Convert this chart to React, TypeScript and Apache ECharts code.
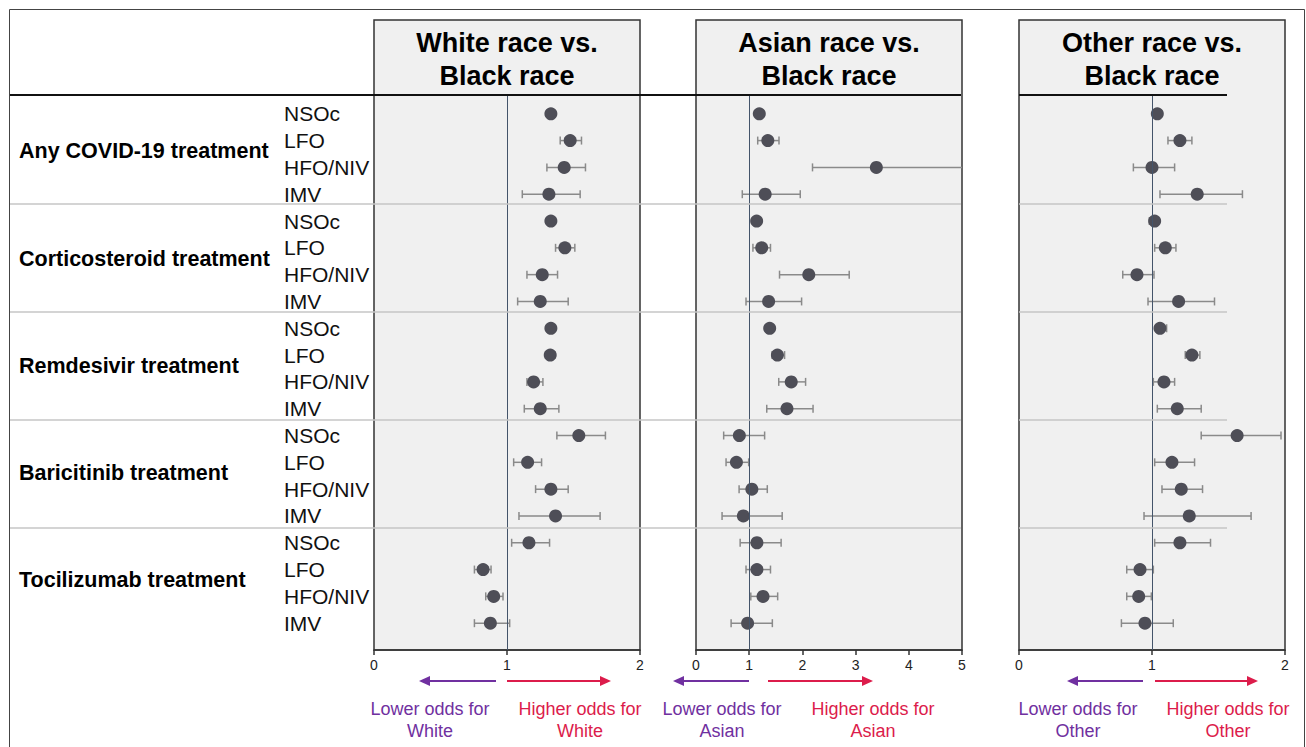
import React, { useEffect, useRef } from 'react';
import * as echarts from 'echarts';

// ---------- data ----------
const groups = [
  'Any COVID-19 treatment',
  'Corticosteroid treatment',
  'Remdesivir treatment',
  'Baricitinib treatment',
  'Tocilizumab treatment',
];
const levels = ['NSOc', 'LFO', 'HFO/NIV', 'IMV'];
const panelTitles = ['White race vs.\nBlack race', 'Asian race vs.\nBlack race', 'Other race vs.\nBlack race'];
const comparators = ['White', 'Asian', 'Other'];
const axisMax = [2, 5, 2];

const whiteOR = [1.33, 1.475, 1.43, 1.315, 1.33, 1.435, 1.265, 1.25, 1.33, 1.325, 1.2, 1.25, 1.54, 1.155, 1.33, 1.365, 1.165, 0.82, 0.9, 0.875];
const whiteLo = [1.3, 1.4, 1.3, 1.115, 1.3, 1.365, 1.15, 1.08, 1.3, 1.29, 1.15, 1.13, 1.375, 1.05, 1.215, 1.09, 1.035, 0.755, 0.84, 0.755];
const whiteHi = [1.36, 1.56, 1.59, 1.55, 1.36, 1.51, 1.38, 1.46, 1.36, 1.36, 1.27, 1.39, 1.74, 1.26, 1.46, 1.7, 1.32, 0.88, 0.97, 1.02];

const asianOR = [1.19, 1.35, 3.39, 1.3, 1.14, 1.235, 2.12, 1.365, 1.385, 1.53, 1.79, 1.71, 0.815, 0.76, 1.05, 0.89, 1.145, 1.145, 1.26, 0.97];
const asianLo = [1.12, 1.16, 2.19, 0.87, 1.08, 1.07, 1.57, 0.94, 1.32, 1.43, 1.555, 1.33, 0.52, 0.565, 0.81, 0.49, 0.83, 0.94, 1.03, 0.66];
const asianHi = [1.26, 1.56, 5.6, 1.96, 1.2, 1.4, 2.88, 1.985, 1.45, 1.665, 2.06, 2.2, 1.29, 0.99, 1.34, 1.62, 1.6, 1.4, 1.535, 1.435];

const otherOR = [1.04, 1.21, 1.0, 1.34, 1.02, 1.1, 0.887, 1.2, 1.06, 1.3, 1.09, 1.19, 1.64, 1.15, 1.22, 1.28, 1.21, 0.91, 0.9, 0.947];
const otherLo = [1.01, 1.12, 0.86, 1.06, 0.98, 1.02, 0.78, 0.97, 1.03, 1.25, 1.01, 1.04, 1.37, 1.02, 1.075, 0.94, 1.02, 0.81, 0.81, 0.77];
const otherHi = [1.07, 1.3, 1.17, 1.68, 1.05, 1.18, 1.015, 1.47, 1.11, 1.36, 1.17, 1.37, 1.97, 1.32, 1.38, 1.745, 1.44, 1.01, 0.995, 1.16];

const groupBreaks = [3.36, 7.4, 11.42, 15.45];

// ---------- layout ----------
const FONT = '"Liberation Sans", Arial, sans-serif';
const panelLeft = [374, 696, 1019];
const panelWidth = 266;
const plotTop = 95;
const plotBottom = 650;
const headerTop = 20;
const yMin = -0.7;
const yMax = 20;
const arrowY = 681;
const purpleArrows = [[496, 419], [749, 673], [1143, 1067]];
const redArrows = [[507, 611], [768, 873], [1155, 1258]];
const lowerTextX = [430, 722, 1078];
const higherTextX = [580, 873, 1228];
const PURPLE = '#7030a0';
const RED = '#dc1c4b';

const ors = [whiteOR, asianOR, otherOR];
const los = [whiteLo, asianLo, otherLo];
const his = [whiteHi, asianHi, otherHi];

export default function App() {
  const ref = useRef<HTMLDivElement>(null);
  useEffect(() => {
    const chart = echarts.init(ref.current!, null, { renderer: 'svg', width: 1306, height: 747 });
    const rowLabels = groups.flatMap(() => levels);
    const rowIdx = rowLabels.map((_, k) => k);
    const groupCenters = groups.map((_, g) => g * 4 + 1.4);
    const plotH = plotBottom - plotTop;

    const grids: any[] = [];
    const xAxes: any[] = [];
    const yAxes: any[] = [];
    const series: any[] = [];

    panelLeft.forEach((left, i) => {
      grids.push({ left, top: plotTop, width: panelWidth, height: plotH, show: false });
      xAxes.push({
        gridIndex: i, type: 'value', min: 0, max: axisMax[i], interval: 1, position: 'bottom',
        axisLine: { show: true, onZero: false, lineStyle: { color: '#333', width: 1.5 } },
        axisTick: { show: true, length: 5, lineStyle: { color: '#333', width: 1.5 } },
        axisLabel: { fontSize: 14, color: '#222', margin: 8, fontFamily: FONT },
        splitLine: { show: false },
      });
      yAxes.push({
        gridIndex: i, type: 'value', inverse: true, min: yMin, max: yMax,
        show: i === 0,
        axisLine: { show: false, onZero: false }, axisTick: { show: false }, splitLine: { show: false },
        axisLabel: {
          show: i === 0,
          customValues: rowIdx,
          formatter: (v: number) => rowLabels[Math.round(v)] ?? '',
          align: 'left', margin: 90, fontSize: 21, color: '#111', fontFamily: FONT,
          verticalAlign: 'middle', padding: [0, 0, 2, 0],
        },
      });
      series.push({
        type: 'custom', xAxisIndex: i, yAxisIndex: i, z: 2,
        encode: { x: [1, 2], y: 0 },
        data: rowIdx.map((k) => [k, los[i][k], his[i][k]]),
        renderItem: (params: any, api: any) => {
          const row = api.value(0);
          const a = api.coord([api.value(1), row]);
          const b = api.coord([api.value(2), row]);
          const cs = params.coordSys;
          const lo = cs.x, hi = cs.x + cs.width;
          const y = a[1];
          const h = 4;
          const style = { stroke: '#8a8a8a', lineWidth: 1.5 };
          const children: any[] = [
            { type: 'line', shape: { x1: Math.max(a[0], lo), y1: y, x2: Math.min(b[0], hi), y2: y }, style },
          ];
          if (a[0] >= lo) children.push({ type: 'line', shape: { x1: a[0], y1: y - h, x2: a[0], y2: y + h }, style });
          if (b[0] <= hi) children.push({ type: 'line', shape: { x1: b[0], y1: y - h, x2: b[0], y2: y + h }, style });
          return { type: 'group', children };
        },
      });
      series.push({
        type: 'scatter', xAxisIndex: i, yAxisIndex: i, z: 4,
        symbol: 'circle', symbolSize: 13,
        itemStyle: { color: '#4e4e57', opacity: 1 },
        data: rowIdx.map((k) => [ors[i][k], k]),
        markLine: {
          silent: true, symbol: ['none', 'none'], label: { show: false },
          lineStyle: { color: '#44546a', width: 1, type: 'solid' },
          data: [{ xAxis: 1 }],
        },
      });
    });

    // table grids (label column + separators)
    const tableGrids = [
      { left: 10, width: 951 },
      { left: 1019, width: 208 },
    ];
    tableGrids.forEach((tg, j) => {
      const gi = 3 + j;
      grids.push({ left: tg.left, width: tg.width, top: plotTop, height: plotH, show: false });
      xAxes.push({ gridIndex: gi, type: 'value', min: 0, max: 1, show: false, axisLine: { onZero: false } });
      yAxes.push({
        gridIndex: gi, type: 'value', inverse: true, min: yMin, max: yMax,
        show: j === 0,
        axisLine: { show: false, onZero: false }, axisTick: { show: false }, splitLine: { show: false },
        axisLabel: {
          show: j === 0,
          customValues: groupCenters,
          formatter: (v: number) => groups[Math.floor(v / 4)] ?? '',
          align: 'left', margin: -9, fontSize: 21.5, fontWeight: 'bold', color: '#000', fontFamily: FONT,
        },
      });
      series.push({
        type: 'scatter', xAxisIndex: gi, yAxisIndex: gi, z: 3, silent: true,
        symbolSize: 0, data: [[0, yMin]],
        markLine: {
          silent: true, symbol: ['none', 'none'], label: { show: false },
          lineStyle: { color: '#c6c6c6', width: 1.5, type: 'solid' },
          data: [
            { yAxis: yMin, lineStyle: { color: '#111', width: 1.8, type: 'solid' } },
            ...groupBreaks.map((b) => ({ yAxis: b })),
          ],
        },
      });
    });

    const graphics: any[] = [];
    graphics.push({
      type: 'rect', z: -1,
      shape: { x: 9.5, y: 9.5, width: 1295, height: 760 },
      style: { fill: '#fff', stroke: '#444', lineWidth: 1 },
    });
    panelLeft.forEach((left, i) => {
      graphics.push({
        type: 'rect', z: -1,
        shape: { x: left, y: headerTop, width: panelWidth, height: plotBottom - headerTop },
        style: { fill: '#f0f0f0', stroke: '#333', lineWidth: 1.5 },
      });
      graphics.push({
        type: 'text',
        style: {
          text: panelTitles[i], x: left + panelWidth / 2, y: 59.5,
          align: 'center', verticalAlign: 'middle',
          fontSize: 27, fontWeight: 'bold', fontFamily: FONT, lineHeight: 33, fill: '#000',
        },
      });
      const [pt, ph] = purpleArrows[i];
      graphics.push({ type: 'line', shape: { x1: pt, y1: arrowY, x2: ph + 8, y2: arrowY }, style: { stroke: PURPLE, lineWidth: 2 } });
      graphics.push({ type: 'polygon', shape: { points: [[ph, arrowY], [ph + 11, arrowY - 5], [ph + 11, arrowY + 5]] }, style: { fill: PURPLE } });
      const [rt, rh] = redArrows[i];
      graphics.push({ type: 'line', shape: { x1: rt, y1: arrowY, x2: rh - 8, y2: arrowY }, style: { stroke: RED, lineWidth: 2 } });
      graphics.push({ type: 'polygon', shape: { points: [[rh, arrowY], [rh - 11, arrowY - 5], [rh - 11, arrowY + 5]] }, style: { fill: RED } });
      graphics.push({
        type: 'text',
        style: {
          text: `Lower odds for\n${comparators[i]}`, x: lowerTextX[i], y: 720,
          align: 'center', verticalAlign: 'middle', fontSize: 18, fontFamily: FONT, lineHeight: 22, fill: PURPLE,
        },
      });
      graphics.push({
        type: 'text',
        style: {
          text: `Higher odds for\n${comparators[i]}`, x: higherTextX[i], y: 720,
          align: 'center', verticalAlign: 'middle', fontSize: 18, fontFamily: FONT, lineHeight: 22, fill: RED,
        },
      });
    });

    chart.setOption({
      animation: false,
      backgroundColor: '#fff',
      textStyle: { fontFamily: FONT },
      grid: grids,
      xAxis: xAxes,
      yAxis: yAxes,
      series,
      graphic: { elements: graphics },
    });
    return () => chart.dispose();
  }, []);
  return <div ref={ref} style={{ position: 'absolute', left: 0, top: 0, width: 1306, height: 747 }} />;
}
